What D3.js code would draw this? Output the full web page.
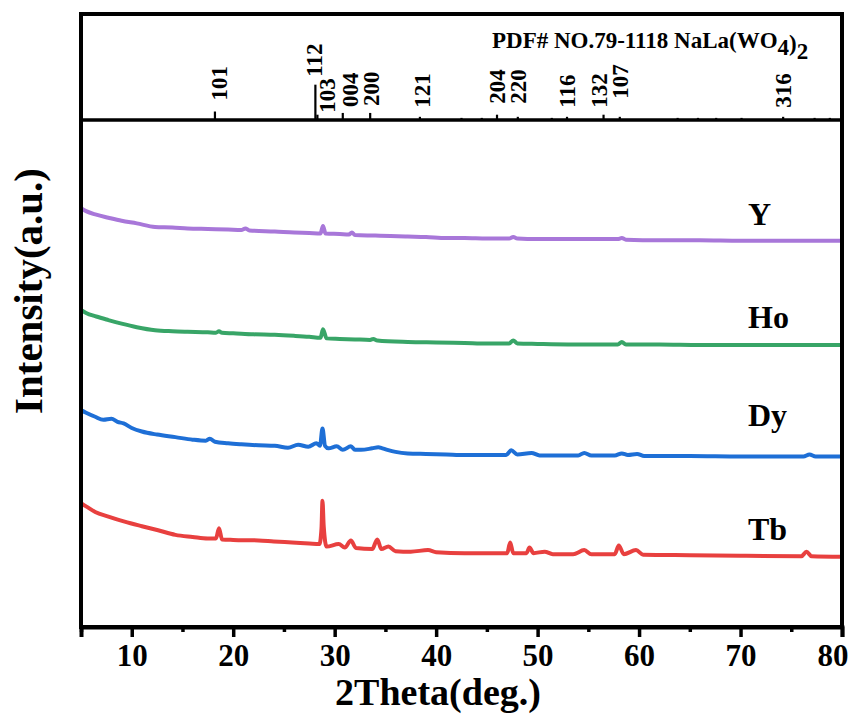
<!DOCTYPE html>
<html><head><meta charset="utf-8">
<script src="https://cdn.jsdelivr.net/npm/d3@7"></script>
<style>
body{margin:0;background:#fff}
svg{display:block}
text{font-family:"Liberation Serif","Times New Roman",serif;font-weight:bold;fill:#000}
</style>
</head><body>
<svg id="chart" width="853" height="715"></svg>
<script>
// ---------- DATA ----------
const xTickValues = [10, 20, 30, 40, 50, 60, 70, 80];
const xMinorTickValues = [5, 15, 25, 35, 45, 55, 65, 75];
const seriesNames = ["Y", "Ho", "Dy", "Tb"];

// [2theta (deg), intensity (a.u.)]
const seriesY = [[5.0,82.5],[5.5,81.9],[6.5,81.2],[7.7,80.6],[9.0,80.0],[10.5,79.5],[12.3,78.8],[14.0,78.7],[15.5,78.5],[17.5,78.4],[19.5,78.3],[20.8,78.2],[21.2,78.5],[21.6,78.1],[24.1,77.9],[26.0,77.7],[27.5,77.6],[28.6,77.5],[28.85,79.0],[29.1,77.5],[30.5,77.4],[31.4,77.3],[31.7,77.7],[32.0,77.2],[34.0,77.1],[35.5,77.0],[37.2,76.9],[39.0,76.8],[41.0,76.6],[42.8,76.6],[45.0,76.5],[47.2,76.5],[47.6,76.8],[48.0,76.5],[50.0,76.4],[54.0,76.4],[57.9,76.4],[58.3,76.6],[58.7,76.3],[62.0,76.2],[66.0,76.2],[70.0,76.1],[75.0,76.1],[80.0,76.1]];

const seriesHo = [[5.0,62.5],[5.5,61.9],[6.5,61.2],[7.7,60.5],[9.0,59.8],[10.5,59.1],[12.3,58.5],[14.0,58.3],[15.5,58.2],[17.5,58.1],[18.3,58.0],[18.6,58.3],[18.9,58.0],[20.0,57.9],[22.0,57.7],[24.1,57.6],[26.0,57.4],[27.5,57.2],[28.6,57.0],[28.85,58.7],[29.2,56.9],[30.5,56.8],[32.0,56.7],[33.5,56.6],[33.8,56.8],[34.2,56.5],[37.2,56.2],[40.0,56.1],[42.8,56.0],[45.0,55.9],[47.2,55.9],[47.6,56.5],[48.0,55.9],[50.0,55.8],[53.0,55.7],[56.0,55.7],[57.9,55.7],[58.3,56.2],[58.7,55.7],[62.0,55.7],[66.0,55.6],[70.0,55.6],[75.0,55.6],[80.0,55.6]];

const seriesDy = [[5.0,42.8],[5.5,42.3],[6.4,41.5],[7.2,40.9],[8.0,41.1],[8.6,40.5],[9.2,40.2],[10.0,39.3],[11.0,38.6],[12.5,38.0],[14.3,37.5],[16.0,37.0],[17.3,36.8],[17.7,37.2],[18.2,36.6],[19.5,36.3],[20.8,36.1],[22.5,35.9],[24.1,35.8],[25.4,35.4],[26.4,36.0],[27.4,35.6],[28.2,36.3],[28.55,35.8],[28.8,39.2],[29.05,35.8],[29.4,35.3],[30.2,35.7],[30.8,35.0],[31.6,35.7],[32.0,35.0],[32.6,35.0],[33.7,35.3],[34.3,35.5],[34.7,35.3],[35.2,35.0],[36.0,34.6],[37.2,34.3],[39.0,34.2],[41.0,34.1],[42.8,34.0],[45.0,34.0],[46.9,34.0],[47.4,34.9],[48.0,34.1],[49.4,34.4],[50.2,33.9],[52.0,33.9],[54.0,33.9],[54.6,34.4],[55.3,33.9],[57.6,33.9],[58.3,34.3],[58.9,34.0],[59.8,34.2],[60.5,33.8],[65.0,33.8],[70.0,33.7],[76.2,33.7],[76.8,34.1],[77.4,33.7],[80.0,33.7]];

const seriesTb = [[5.0,24.5],[5.5,23.9],[6.4,22.8],[7.7,21.9],[9.3,20.9],[11.0,20.0],[12.6,19.2],[14.3,18.3],[16.0,17.9],[17.5,17.6],[18.3,17.6],[18.6,19.6],[18.9,17.4],[20.0,17.3],[22.5,17.2],[24.0,17.0],[25.8,16.8],[27.5,16.6],[28.5,16.5],[28.7,19.5],[28.8,25.0],[28.92,20.0],[29.2,16.0],[30.4,16.5],[31.0,15.8],[31.6,17.2],[32.1,15.7],[33.7,15.5],[34.2,17.4],[34.6,15.5],[35.3,16.0],[36.0,15.1],[37.5,15.0],[39.2,15.3],[40.0,14.9],[42.8,14.7],[45.0,14.7],[47.0,14.7],[47.3,16.8],[47.6,14.7],[48.9,14.7],[49.2,15.8],[49.6,14.7],[50.7,15.0],[51.5,14.5],[53.5,14.5],[54.6,15.3],[55.3,14.5],[57.6,14.5],[58.0,16.2],[58.5,14.5],[59.7,15.3],[60.4,14.4],[65.0,14.3],[70.0,14.2],[76.0,14.1],[76.5,15.0],[77.0,14.1],[80.0,14.0]];

// PDF# 79-1118 reference lines
const pdfTheta     = [18.2, 28.1, 28.3, 30.8, 33.5, 38.4, 42.5, 44.5, 46.0, 48.05, 51.4, 52.9, 56.5, 58.1, 63.8, 65.8, 67.6, 70.1, 74.2, 77.3, 78.8];
const pdfIntensity = [24,   100,  15,   20,   20,   9,    6,    6,    15,   9,     6,    9,    15,   9,    6,    6,    6,    6,    9,    6,    6];
const pdfHkl       = ["101","112","103","004","200","121","","","204","220","","116","132","107","","","","","316","",""];

const pdfTitle = ["PDF# NO.79-1118 NaLa(WO", "4", ")", "2"];
const xTitle = "2Theta(deg.)";
const yTitle = "Intensity(a.u.)";

// ---------- STYLE / LAYOUT ----------
const colors = {Y:"#a877d9", Ho:"#38a567", Dy:"#1e6fd6", Tb:"#e8403f"};
const labelOffset = {Y:16, Ho:17, Dy:30, Tb:17};
const hklNudge = {"101":[4,-4],"112":[-1,-1],"103":[10,5],"004":[7,1],"200":[1,0],"121":[2,-2],"204":[0,-4],"220":[0,-6],"116":[0,-2],"132":[-5,0],"107":[0,-11],"316":[0,-2]};

const L = 81, R = 842, TOP = 14, MID = 120, BOT = 627;

const svg = d3.select("#chart");
const x = d3.scaleLinear().domain([5, 80]).range([L, R]);
const y = d3.scaleLinear().domain([0, 100]).range([628, 119]);
const yPdf = d3.scaleLinear().domain([0, 300]).range([MID, TOP]);

svg.append("defs").append("clipPath").attr("id","clip")
  .append("rect").attr("x",L).attr("y",MID).attr("width",R-L).attr("height",BOT-MID);

// series
const line = d3.line().curve(d3.curveMonotoneX).x(d => x(d[0])).y(d => y(d[1]));
const allSeries = {Y:seriesY, Ho:seriesHo, Dy:seriesDy, Tb:seriesTb};
const g = svg.append("g").attr("clip-path","url(#clip)");
seriesNames.forEach(n => {
  g.append("path").datum(allSeries[n])
    .attr("d", line)
    .attr("fill","none")
    .attr("stroke", colors[n])
    .attr("stroke-width", 4)
    .attr("stroke-linejoin","round")
    .attr("stroke-linecap","round");
});

// series labels
seriesNames.forEach(n => {
  const s = allSeries[n];
  svg.append("text")
    .attr("x", 748)
    .attr("y", y(s[s.length-1][1]) - labelOffset[n])
    .attr("font-size", 32)
    .text(n);
});

// PDF lines
const pdf = pdfTheta.map((t,i) => ({t, v:pdfIntensity[i], hkl:pdfHkl[i]}));
svg.append("g").selectAll("line").data(pdf).join("line")
  .attr("x1", d => x(d.t)).attr("x2", d => x(d.t))
  .attr("y1", yPdf(0)).attr("y2", d => yPdf(d.v))
  .attr("stroke","#000").attr("stroke-width", 2.2);

svg.append("g").selectAll("text").data(pdf.filter(d => d.hkl)).join("text")
  .attr("transform", d => {
    const nd = hklNudge[d.hkl] || [0,0];
    const bx = x(d.t) + 8 + nd[0];
    const by = yPdf(d.v) - 7 + nd[1];
    return `translate(${bx},${by}) rotate(-90)`;
  })
  .attr("font-size", 23)
  .text(d => d.hkl);

// PDF title
const tt = svg.append("text").attr("x", 492).attr("y", 48).attr("font-size", 23);
tt.append("tspan").text(pdfTitle[0]);
tt.append("tspan").attr("dy", 7).text(pdfTitle[1]);
tt.append("tspan").attr("dy", -4).text(pdfTitle[2]);
tt.append("tspan").attr("dy", 8).text(pdfTitle[3]);

// frame
svg.append("rect").attr("x",L).attr("y",TOP).attr("width",R-L).attr("height",BOT-TOP)
  .attr("fill","none").attr("stroke","#000").attr("stroke-width",4);
svg.append("line").attr("x1",L).attr("x2",R).attr("y1",MID).attr("y2",MID)
  .attr("stroke","#000").attr("stroke-width",3.5);

// bottom axis
const axMaj = svg.append("g").attr("transform",`translate(0,${BOT})`)
  .call(d3.axisBottom(x).tickValues(xTickValues).tickSize(10).tickPadding(7).tickFormat(d3.format("d")));
axMaj.select(".domain").attr("stroke-width",4);
axMaj.selectAll(".tick line").attr("stroke-width",3.5);
axMaj.selectAll(".tick text").attr("font-size",31).attr("font-family",null)
  .filter(d => d === xTickValues[xTickValues.length-1])
  .attr("text-anchor","end").attr("dx", 6);
const axMin = svg.append("g").attr("transform",`translate(0,${BOT})`)
  .call(d3.axisBottom(x).tickValues(xMinorTickValues).tickSize(5).tickFormat(""));
axMin.select(".domain").remove();
axMin.selectAll(".tick line").attr("stroke-width",3.5);

// titles
svg.append("text").attr("x", 438).attr("y", 705).attr("text-anchor","middle")
  .attr("font-size", 38).text(xTitle);
svg.append("text").attr("transform","translate(42,291) rotate(-90)").attr("text-anchor","middle")
  .attr("font-size", 41).text(yTitle);
</script>
</body></html>
